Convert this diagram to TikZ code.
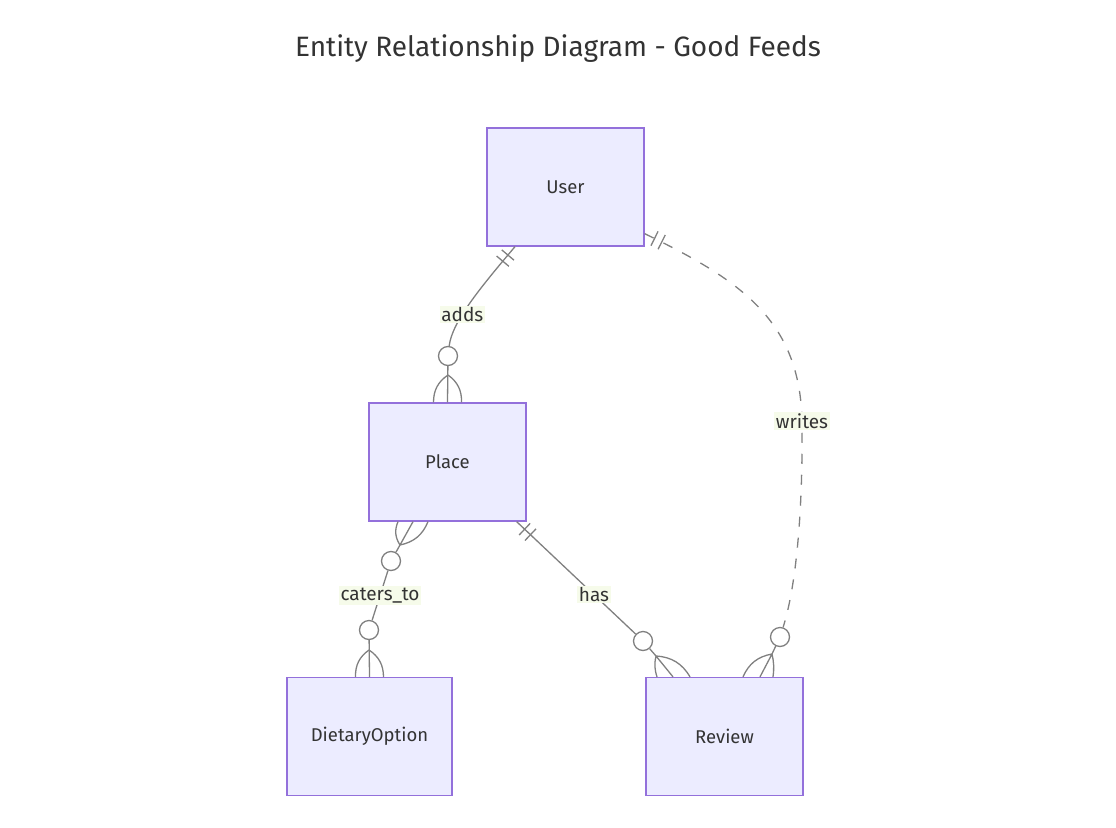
\documentclass[tikz,border=0pt]{standalone}
\usepackage{fontspec}
\setmainfont{Fira Sans}
\usetikzlibrary{decorations.markings}

\definecolor{boxfill}{HTML}{ECECFF}
\definecolor{boxline}{HTML}{9370DB}
\definecolor{linkgray}{HTML}{808080}
\definecolor{labelbg}{HTML}{F6FBEA}
\definecolor{textgray}{HTML}{333333}

\def\lw{1.3pt}
\def\bend{28}

\tikzset{
  entity/.style={draw=boxline, fill=boxfill, line width=\lw, minimum height=118pt,
    text=textgray, font=\fontsize{18.5}{22}\selectfont},
  link/.style={draw=linkgray, line width=\lw},
  rel/.style={fill=labelbg, text=textgray, inner sep=1.5pt, font=\fontsize{19}{23}\selectfont},
  zero/.style={circle, draw=linkgray, fill=white, line width=\lw, minimum size=19pt, inner sep=0pt},
  exactlyone/.style={postaction={decorate, decoration={markings,%
    mark=at position 11pt with {\draw[solid, linkgray, line width=\lw] (0,-8pt) -- (0,8pt);},%
    mark=at position 19pt with {\draw[solid, linkgray, line width=\lw] (0,-8pt) -- (0,8pt);}}}},
}

\begin{document}
\begin{tikzpicture}[x=1pt, y=-1pt]
\useasboundingbox (0,0) rectangle (1116,827);
\node[text=textgray, font=\fontsize{28}{33}\selectfont] (title) at (558,49) {Entity Relationship Diagram - Good Feeds};
% entities
\foreach \name/\pos/\boxwd/\txt in {%
    user/{565.5,187}/157/User,%
    place/{447.5,462}/157/Place,%
    diet/{369.5,736.5}/165/DietaryOption,%
    review/{724.5,736.5}/157/Review%
  }{%
    \node[entity, minimum width=\boxwd pt] (\name) at (\pos) {\txt};%
  };
% User adds Place
\coordinate (ua) at ([xshift=-50.5pt]user.south);
\node[zero] (ua-c) at (448,356) {};
\coordinate (ua-x) at (448,375);
\draw[link, exactlyone] (ua) .. controls (480,288) and (452,322) .. node[rel, pos=0.62] {adds} (ua-c);
\draw[link] (ua-c) -- (place.north);
\draw[link] (ua-x) to[bend right=\bend] ([xshift=-14pt]place.north)
  (ua-x) to[bend left=\bend] ([xshift=14pt]place.north);
% Place caters_to DietaryOption
\coordinate (pd-x) at (400,545);
\node[zero] (pd-c) at (391,561) {};
\node[zero] (dp-c) at (369,630) {};
\coordinate (dp-x) at (369,650);
\draw[link] (pd-x) to[bend left=\bend] ([xshift=-49.5pt]place.south)
  (pd-x) -- ([xshift=-34.5pt]place.south)
  (pd-x) to[bend right=\bend] ([xshift=-19.5pt]place.south);
\draw[link] (pd-c) -- (pd-x);
\draw[link] (pd-c) -- node[rel] {caters\_to} (dp-c);
\draw[link] (dp-c) -- (diet.north);
\draw[link] (dp-x) to[bend right=\bend] ([xshift=-14pt]diet.north)
  (dp-x) to[bend left=\bend] ([xshift=14pt]diet.north);
% Place has Review
\coordinate (pr) at ([xshift=-10pt]place.south east);
\node[zero] (pr-c) at (643,641) {};
\coordinate (pr-x) at (656,656);
\draw[link, exactlyone] (pr) -- node[rel, pos=0.65] {has} (pr-c);
\draw[link] (pr-c) -- (pr-x);
\draw[link] (pr-x) to[bend right=15] ([xshift=-67.5pt]review.north)
  (pr-x) -- ([xshift=-51.5pt]review.north)
  (pr-x) to[bend left=\bend] ([xshift=-34.5pt]review.north);
% User writes Review
\coordinate (uw) at ([yshift=13pt]user.south east);
\node[zero] (uw-c) at (780,637) {};
\coordinate (uw-x) at (772,654);
\draw[link, dash pattern=on 10pt off 11pt, exactlyone] (uw) .. controls (740,280) and (800,320) .. (802,421)
  node[rel] {writes} .. controls (803,520) and (795,590) .. (uw-c);
\draw[link] (uw-c) -- (uw-x);
\draw[link] (uw-x) to[bend right=\bend] ([xshift=18.5pt]review.north)
  (uw-x) -- ([xshift=35.5pt]review.north)
  (uw-x) to[bend left=10] ([xshift=48.5pt]review.north);
\end{tikzpicture}
\end{document}
